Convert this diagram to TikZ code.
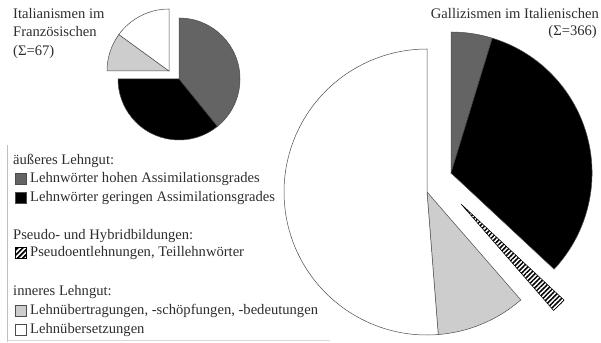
\documentclass[tikz,border=0pt]{standalone}
\usepackage{fontspec}
\setmainfont{Liberation Serif}
\usetikzlibrary{patterns.meta}
\definecolor{dgray}{RGB}{100,100,100}
\definecolor{lgray}{RGB}{205,205,205}
\definecolor{txt}{RGB}{45,45,45}
\def\pslice#1#2#3#4#5{\path[#5] (#1) -- ++(#3:#2) arc[start angle=#3,end angle=#4,radius=#2] -- cycle;}
\begin{document}
\begin{tikzpicture}[x=1pt,y=1pt,
  slice/.style={draw=gray!60!black, line width=0.5pt},
  lbl/.style={font=\fontsize{14.6}{18}\selectfont, text=txt, inner sep=0pt, text height=10pt, text depth=3pt, anchor=west},
  key/.style={draw=gray!60!black, line width=0.5pt, minimum size=11pt, inner sep=0pt},
  hatch/.style={pattern={Lines[angle=45,distance=3.3pt,line width=1.5pt]}}]
\useasboundingbox (0,0) rectangle (601,342);
% small pie
\coordinate (sA) at (179,263);
\coordinate (sB) at (169,271);
\pslice{sA}{61pt}{90}{-51}{slice, fill=dgray}
\pslice{sA}{61pt}{-51}{-180}{slice, fill=black}
\pslice{sB}{62pt}{180}{144}{slice, fill=lgray}
\pslice{sB}{62pt}{144}{90}{slice, fill=white}
% large pie
\coordinate (gA) at (451,169);
\coordinate (gH) at (461,138);
\coordinate (gB) at (427,150);
\pslice{gA}{141pt}{90}{73}{slice, fill=dgray}
\pslice{gA}{141pt}{73}{-43}{slice, fill=black}
\pslice{gH}{141pt}{-43}{-49}{slice, draw=black, hatch}
\pslice{gB}{143pt}{-49}{-85.5}{slice, fill=lgray}
\pslice{gB}{143pt}{-85.5}{-270}{slice, fill=white}
% titles
\node[lbl] (ti1) at (13,327) {Italianismen im};
\node[lbl] (ti2) at (13,309) {Französischen};
\node[lbl] (ti3) at (13,290) {(Σ=67)};
\node[lbl, anchor=east] (tg1) at (599,327) {Gallizismen im Italienischen};
\node[lbl, anchor=east] (tg2) at (597,310) {(Σ=366)};
% legend
\draw[gray!50, line width=0.6pt] (7,197) -- (7,0);
\draw[gray!30, line width=0.5pt] (7,2) -- (330,2);
\node[lbl] (h1) at (13,181) {äußeres Lehngut:};
\node[key, fill=dgray] (k1) at (21,163) {};
\node[lbl] (t1) at (30,163) {Lehnwörter hohen Assimilationsgrades};
\node[key, fill=black] (k2) at (21,144) {};
\node[lbl] (t2) at (30,144) {Lehnwörter geringen Assimilationsgrades};
\node[lbl] (h2) at (13,106) {Pseudo- und Hybridbildungen:};
\node[key, draw=black, pattern={Lines[angle=45,distance=3.6pt,line width=1.7pt]}] (k3) at (21,89) {};
\node[lbl] (t3) at (30,89) {Pseudoentlehnungen, Teillehnwörter};
\node[lbl] (h3) at (13,50) {inneres Lehngut:};
\node[key, fill=lgray] (k4) at (21,31) {};
\node[lbl] (t4) at (30,31) {Lehnübertragungen, -schöpfungen, -bedeutungen};
\node[key, fill=white] (k5) at (21,12) {};
\node[lbl] (t5) at (30,12) {Lehnübersetzungen};
\end{tikzpicture}
\end{document}
